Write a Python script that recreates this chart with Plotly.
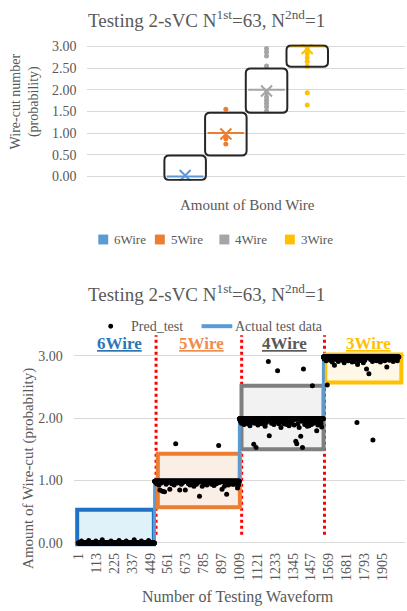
import plotly.graph_objects as go

# ---------------- data ----------------
wire_labels = ["6Wire", "5Wire", "4Wire", "3Wire"]
wire_colors = ["#5B9BD5", "#ED7D31", "#A5A5A5", "#FFC000"]

# top chart (box & whisker, all quartiles collapse on the median)
top_median = [0.0, 1.0, 2.0, 3.0]
top_mean = [0.02, 0.98, 1.97, 2.95]
top_outliers = [
    [],
    [1.55, 0.91, 0.87, 0.75],
    [2.95, 2.87, 2.78, 2.55, 1.93, 1.83, 1.76, 1.68, 1.61, 1.51],
    [2.93, 2.83, 2.74, 2.65, 2.54, 1.93, 1.65],
]
top_frames = [(-0.08, 0.48), (0.48, 1.47), (1.47, 2.49), (2.53, 3.02)]

# bottom chart (per-waveform prediction)
sample_counts = [477, 531, 526, 473]
actual_levels = [0, 1, 2, 3]
pred_typical = [0.0, 0.99, 1.99, 2.98]
pred_deviations = [
    [(20, 0.03), (65, 0.04), (110, 0.03), (150, 0.05), (205, 0.03), (255, 0.04),
     (300, 0.03), (350, 0.05), (395, 0.03), (440, 0.04)],
    [(490, 0.95), (505, 0.93), (511, 0.85), (520, 0.96), (527, 0.83), (540, 0.82),
     (550, 0.94), (560, 0.97), (573, 0.86), (585, 0.95), (600, 0.93), (610, 1.59),
     (620, 0.96), (635, 0.85), (645, 0.94), (655, 0.97), (670, 0.85), (690, 0.95),
     (700, 0.93), (715, 0.96), (724, 0.91), (740, 0.94), (750, 0.97), (759, 0.75),
     (776, 0.91), (790, 0.95), (805, 0.93), (820, 0.96), (835, 0.94), (850, 0.92),
     (865, 0.95), (879, 1.56), (885, 0.97), (900, 0.86), (915, 0.91), (929, 0.78),
     (940, 0.93), (955, 0.96), (965, 0.94), (977, 0.94), (985, 0.95), (997, 0.88),
     (1003, 0.93)],
    [(1015, 1.95), (1022, 1.92), (1030, 1.96), (1038, 1.90), (1045, 1.94), (1052, 1.97),
     (1060, 1.91), (1068, 1.95), (1075, 1.88), (1083, 1.93), (1090, 1.96), (1099, 1.58),
     (1105, 1.92), (1113, 1.53), (1118, 1.95), (1125, 1.89), (1134, 1.91), (1140, 1.94),
     (1148, 1.97), (1155, 1.91), (1163, 1.95), (1170, 1.87), (1178, 1.93), (1185, 1.96),
     (1190, 2.91), (1196, 1.72), (1210, 1.92), (1218, 1.95), (1225, 1.90), (1233, 1.94),
     (1240, 1.97), (1248, 2.76), (1255, 1.91), (1262, 1.95), (1269, 1.85), (1278, 1.93),
     (1289, 1.91), (1296, 1.96), (1304, 1.90), (1312, 1.94), (1320, 1.88), (1328, 1.95),
     (1336, 1.92), (1344, 1.97), (1352, 1.89), (1362, 1.63), (1368, 1.59), (1375, 1.91),
     (1383, 1.85), (1393, 1.71), (1400, 1.95), (1404, 1.53), (1410, 2.79), (1418, 1.90),
     (1426, 1.93), (1434, 1.87), (1445, 1.88), (1452, 1.94), (1460, 1.90), (1466, 2.52),
     (1474, 1.92), (1482, 1.95), (1493, 1.80), (1500, 1.89), (1508, 1.93), (1516, 1.96),
     (1520, 1.91), (1524, 1.86)],
    [(1540, 2.95), (1552, 2.92), (1559, 2.53), (1565, 2.96), (1578, 2.93), (1590, 2.90),
     (1604, 2.85), (1615, 2.94), (1628, 2.91), (1640, 2.96), (1652, 2.93), (1665, 2.89),
     (1678, 2.95), (1690, 2.92), (1702, 2.96), (1715, 2.90), (1728, 2.91), (1738, 2.94),
     (1745, 1.93), (1749, 2.86), (1760, 2.92), (1772, 2.95), (1785, 2.89), (1795, 2.93),
     (1805, 2.79), (1820, 2.71), (1830, 2.94), (1842, 2.91), (1845, 1.65), (1855, 2.96),
     (1868, 2.92), (1880, 2.95), (1892, 2.90), (1905, 2.94), (1919, 2.92), (1932, 2.82),
     (1948, 2.93), (1960, 2.96), (1972, 2.91), (1985, 2.95), (1998, 2.92)],
]
frame_ranges = [(-7, 473, -0.02, 0.53), (498, 1012, 0.57, 1.43),
                (1022, 1536, 1.50, 2.52), (1547, 2023, 2.57, 3.02)]
frame_edges = ["#2072C4", "#ED7D31", "#7F7F7F", "#FFC000"]
frame_fills = ["#DFF1F9", "#FBEEE5", "#F2F2F2", "#FFF8E6"]
label_colors = ["#2E75B6", "#F08C4C", "#595959", "#FFC000"]
label_x = [256, 772, 1294, 1816]
divider_x = [487, 1023, 1542]

# ---------------- build series ----------------
sample_no, actual, pred = [], [], []
n = 0
for k, cnt in enumerate(sample_counts):
    dev = dict(pred_deviations[k])
    for j in range(cnt):
        n += 1
        sample_no.append(n)
        actual.append(actual_levels[k])
        pred.append(dev.get(n, pred_typical[k]))
N = n

FONT = "Liberation Serif, DejaVu Serif, Times New Roman, serif"
TXT = "#595959"
W, H = 407, 611


def px(p):
    return p / W


def py(p):
    return 1 - p / H


fig = go.Figure()

# ---- top chart traces ----
for i, lab in enumerate(wire_labels):
    pos = i + 1
    c = wire_colors[i]
    m = top_median[i]
    fig.add_trace(go.Box(x=[pos], q1=[m], median=[m], q3=[m], lowerfence=[m], upperfence=[m],
                         width=0.9, line=dict(color=c, width=2), fillcolor=c,
                         boxpoints=False, showlegend=False, name=lab, hoverinfo="skip",
                         xaxis="x", yaxis="y"))
    if top_outliers[i]:
        fig.add_trace(go.Scatter(x=[pos] * len(top_outliers[i]), y=top_outliers[i], mode="markers",
                                 marker=dict(color=c, size=5), showlegend=False,
                                 xaxis="x", yaxis="y"))
    fig.add_trace(go.Scatter(x=[pos], y=[top_mean[i]], mode="markers",
                             marker=dict(symbol="x-thin-open", size=11, color=c,
                                         line=dict(color=c, width=2)),
                             showlegend=False, xaxis="x", yaxis="y"))

# ---- bottom chart traces ----
fig.add_trace(go.Scatter(x=sample_no, y=actual, mode="lines",
                         line=dict(color="#5B9BD5", width=3), name="Actual test data",
                         showlegend=False, xaxis="x2", yaxis="y2"))
fig.add_trace(go.Scatter(x=sample_no, y=pred, mode="markers",
                         marker=dict(color="black", size=5), name="Pred_test",
                         showlegend=False, xaxis="x2", yaxis="y2"))

shapes = []
annotations = []


def rounded(x0, x1, y0, y1, rx, ry):
    return (f"M{x0+rx},{y0} L{x1-rx},{y0} Q{x1},{y0} {x1},{y0+ry} L{x1},{y1-ry} "
            f"Q{x1},{y1} {x1-rx},{y1} L{x0+rx},{y1} Q{x0},{y1} {x0},{y1-ry} "
            f"L{x0},{y0+ry} Q{x0},{y0} {x0+rx},{y0} Z")


for i, (y0, y1) in enumerate(top_frames):
    pos = i + 1
    shapes.append(dict(type="path", xref="x", yref="y",
                       path=rounded(pos - 0.51, pos + 0.51, y0, y1, 0.12, 0.11),
                       line=dict(color="#262626", width=2), layer="above"))

for xv in divider_x:
    shapes.append(dict(type="line", xref="x2", yref="y2", x0=xv, x1=xv, y0=0.13, y1=3.33,
                       line=dict(color="#FF0000", width=3, dash="dot"), layer="between"))

for k, (x0, x1, y0, y1) in enumerate(frame_ranges):
    shapes.append(dict(type="rect", xref="x2", yref="y2", x0=x0, x1=x1, y0=y0, y1=y1,
                       fillcolor=frame_fills[k], line=dict(color=frame_edges[k], width=4),
                       layer="between"))

# top legend (manual)
leg_sq = [101, 158, 223, 289]
for i, lab in enumerate(wire_labels):
    shapes.append(dict(type="rect", xref="paper", yref="paper",
                       x0=px(leg_sq[i] - 5), x1=px(leg_sq[i] + 5), y0=py(243), y1=py(233),
                       fillcolor=wire_colors[i], line=dict(width=0)))
    annotations.append(dict(text=lab, x=px(leg_sq[i] + 9), y=py(238), xref="paper", yref="paper",
                            xanchor="left", yanchor="middle", showarrow=False,
                            font=dict(family=FONT, size=13, color=TXT)))

# bottom legend (manual)
shapes.append(dict(type="circle", xref="paper", yref="paper",
                   x0=px(106), x1=px(111), y0=py(328.5), y1=py(323.5),
                   fillcolor="black", line=dict(width=0)))
annotations.append(dict(text="Pred_test", x=px(127), y=py(326), xref="paper", yref="paper",
                        xanchor="left", yanchor="middle", showarrow=False,
                        font=dict(family=FONT, size=14, color=TXT)))
shapes.append(dict(type="line", xref="paper", yref="paper",
                   x0=px(200), x1=px(231), y0=py(326), y1=py(326),
                   line=dict(color="#5B9BD5", width=4)))
annotations.append(dict(text="Actual test data", x=px(232), y=py(326), xref="paper", yref="paper",
                        xanchor="left", yanchor="middle", showarrow=False,
                        font=dict(family=FONT, size=14, color=TXT)))

# wire labels bottom
for k, lab in enumerate(wire_labels):
    annotations.append(dict(text=f"<b><u>{lab}</u></b>", x=label_x[k], y=3.2, xref="x2", yref="y2",
                            xanchor="center", yanchor="middle", showarrow=False,
                            font=dict(family=FONT, size=17, color=label_colors[k])))

title_txt = "Testing 2-sVC N<sup>1st</sup>=63, N<sup>2nd</sup>=1"
for yy in (14, 292):
    annotations.append(dict(text=title_txt, x=px(205), y=py(yy), xref="paper", yref="paper",
                            xanchor="center", yanchor="middle", showarrow=False,
                            font=dict(family=FONT, size=19, color=TXT)))

annotations.append(dict(text="Wire-cut number<br>(probability)", x=px(22), y=py(98),
                        xref="paper", yref="paper", textangle=-90, showarrow=False,
                        xanchor="center", yanchor="middle",
                        font=dict(family=FONT, size=14, color=TXT)))
annotations.append(dict(text="Amount of Bond Wire", x=px(246), y=py(203), xref="paper", yref="paper",
                        showarrow=False, xanchor="center", yanchor="middle",
                        font=dict(family=FONT, size=15, color=TXT)))
annotations.append(dict(text="Amount of Wire-cut (probability)", x=px(25), y=py(470),
                        xref="paper", yref="paper", textangle=-90, showarrow=False,
                        xanchor="center", yanchor="middle",
                        font=dict(family=FONT, size=15, color=TXT)))
annotations.append(dict(text="Number of Testing Waveform", x=px(237), y=py(601),
                        xref="paper", yref="paper", showarrow=False,
                        xanchor="center", yanchor="middle",
                        font=dict(family=FONT, size=16, color=TXT)))

tickfont = dict(family=FONT, size=14, color=TXT)

fig.update_layout(
    width=W, height=H, margin=dict(l=0, r=0, t=0, b=0),
    paper_bgcolor="white", plot_bgcolor="white", showlegend=False,
    font=dict(family=FONT, color=TXT),
    xaxis=dict(domain=[px(85), px(405)], range=[-1.402, 6.402], showticklabels=False,
               showgrid=False, zeroline=False, showline=False, ticks=""),
    yaxis=dict(domain=[py(178.4), py(39.8)], range=[-0.1, 3.05],
               tickvals=[0, 0.5, 1, 1.5, 2, 2.5, 3], tickformat=".2f",
               showgrid=True, gridcolor="#D9D9D9", gridwidth=1, zeroline=False, showline=False,
               ticks="outside", ticklen=7, tickcolor="rgba(0,0,0,0)", tickfont=tickfont),
    xaxis2=dict(domain=[px(72), px(405)], range=[-24, 2046], anchor="y2",
                tickvals=list(range(1, N + 1, 112)), tickangle=-90, tickfont=tickfont,
                showgrid=False, zeroline=False, showline=False, ticks=""),
    yaxis2=dict(domain=[py(552.3), py(330.7)], range=[-0.1, 3.4], anchor="x2",
                tickvals=[0, 1, 2, 3], tickformat=".2f",
                showgrid=True, gridcolor="#D9D9D9", gridwidth=1, zeroline=False, showline=False,
                ticks="outside", ticklen=8, tickcolor="rgba(0,0,0,0)", tickfont=tickfont),
    shapes=shapes, annotations=annotations,
)

fig.write_html("out.html")
